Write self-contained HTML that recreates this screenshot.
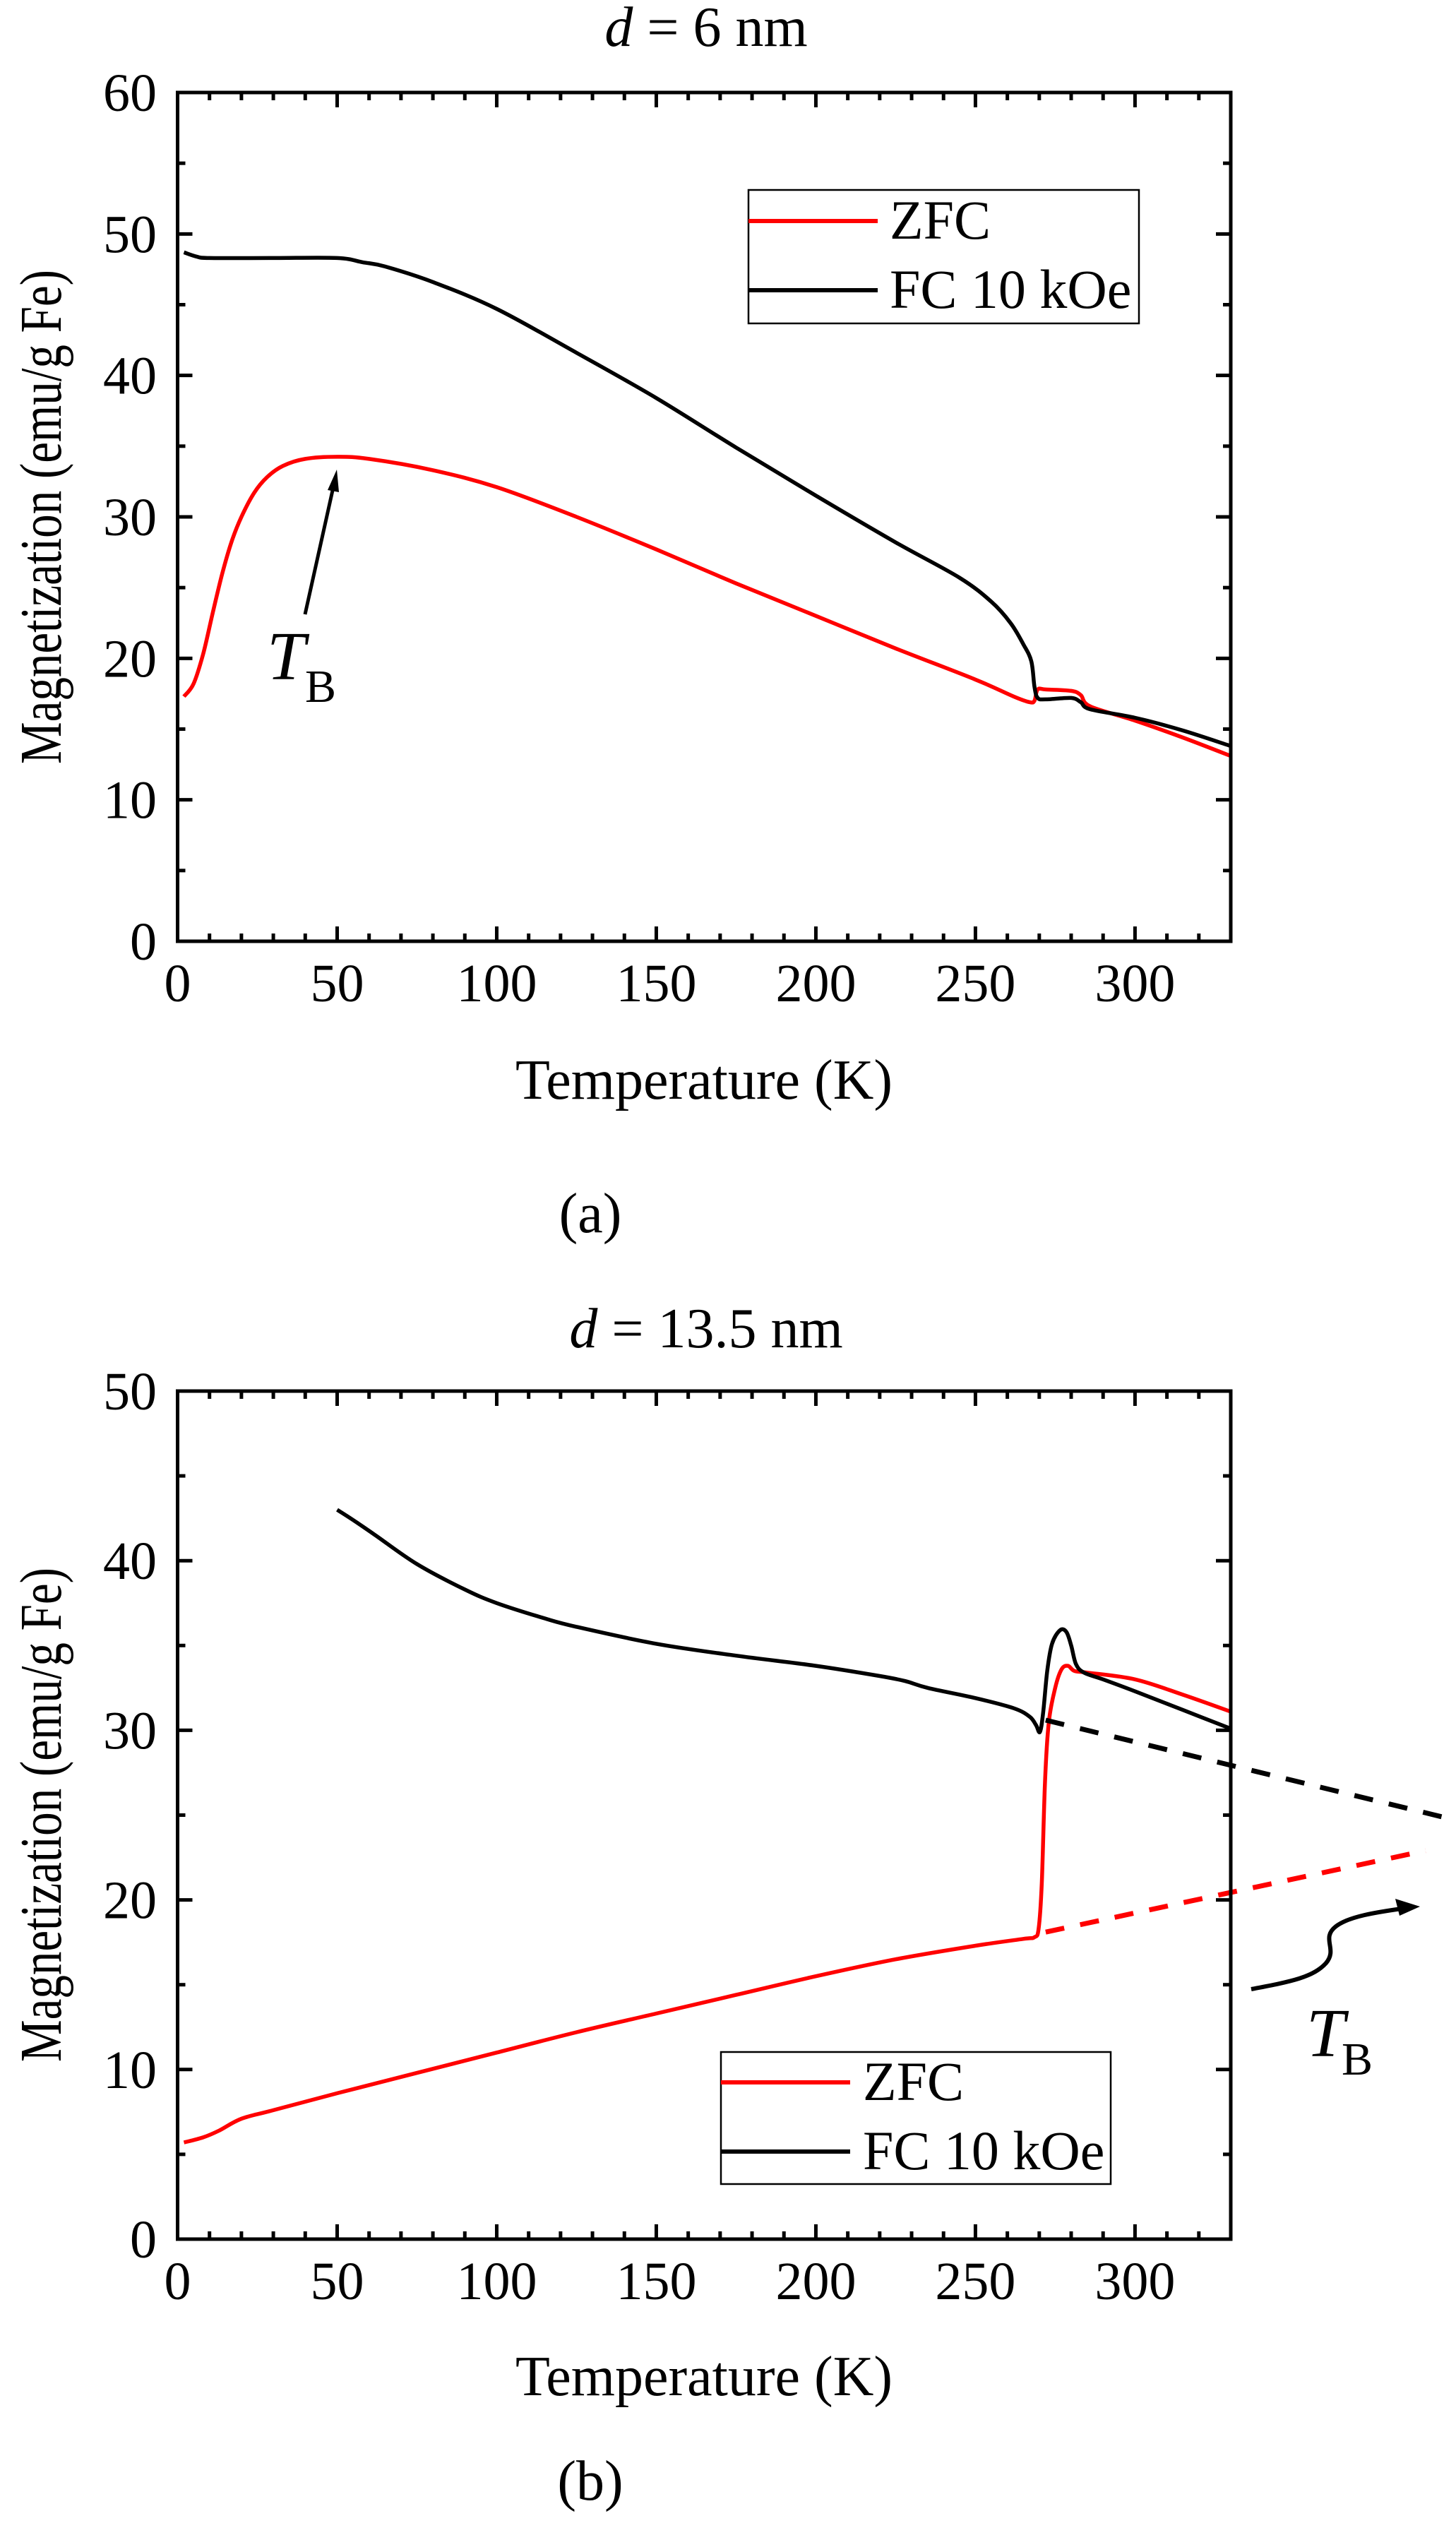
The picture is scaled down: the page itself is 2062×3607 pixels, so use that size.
<!DOCTYPE html>
<html><head><meta charset="utf-8">
<style>html,body{margin:0;padding:0;background:#fff}svg{display:block}</style>
</head><body>
<svg id="s" width="2062" height="3607" viewBox="0 0 2062 3607" xmlns="http://www.w3.org/2000/svg" font-family="'Liberation Serif', serif">
<rect width="2062" height="3607" fill="#fff"/>
<g id="g"></g>
<text x="1000" y="65" font-size="80" text-anchor="middle"><tspan font-style="italic">d</tspan> = 6 nm</text>
<text x="1000" y="1908" font-size="80" text-anchor="middle"><tspan font-style="italic">d</tspan> = 13.5 nm</text>
<text x="836" y="1745" font-size="80" text-anchor="middle">(a)</text>
<text x="836" y="3540" font-size="80" text-anchor="middle">(b)</text>
<text x="997" y="1556" font-size="80" text-anchor="middle">Temperature (K)</text>
<text x="997" y="3392" font-size="80" text-anchor="middle">Temperature (K)</text>
<text transform="translate(86,732) rotate(-90)" font-size="84" text-anchor="middle" textLength="700" lengthAdjust="spacingAndGlyphs">Magnetization (emu/g Fe)</text>
<text transform="translate(86,2570) rotate(-90)" font-size="84" text-anchor="middle" textLength="700" lengthAdjust="spacingAndGlyphs">Magnetization (emu/g Fe)</text>
<text x="378" y="962" font-size="98" font-style="italic">T</text>
<text x="432" y="994" font-size="66">B</text>
<text x="1850" y="2912" font-size="98" font-style="italic">T</text>
<text x="1900" y="2938" font-size="66">B</text>
<rect x="1060" y="269" width="553" height="189" fill="none" stroke="#000" stroke-width="2.5"/>
<line x1="1060" y1="313" x2="1243" y2="313" stroke="#f00" stroke-width="6"/>
<line x1="1060" y1="411" x2="1243" y2="411" stroke="#000" stroke-width="6"/>
<text x="1260" y="338" font-size="78">ZFC</text>
<text x="1260" y="436" font-size="78">FC 10 kOe</text>
<rect x="1021" y="2906" width="552" height="187" fill="none" stroke="#000" stroke-width="2.5"/>
<line x1="1021" y1="2949" x2="1204" y2="2949" stroke="#f00" stroke-width="6"/>
<line x1="1021" y1="3047" x2="1204" y2="3047" stroke="#000" stroke-width="6"/>
<text x="1222" y="2974" font-size="78">ZFC</text>
<text x="1222" y="3072" font-size="78">FC 10 kOe</text>
<path d="M1772,2817 C1830,2806 1860,2800 1878,2780 C1895,2760 1870,2745 1892,2728 C1910,2714 1950,2708 1985,2703" fill="none" stroke="#000" stroke-width="6"/>
<polygon points="2011,2700 1976,2689 1982,2713" fill="#000"/>
<line x1="432" y1="870" x2="472" y2="690" stroke="#000" stroke-width="5"/>
<polygon points="477,665 464,694 480,697" fill="#000"/>
</svg>
<script>
var NS="http://www.w3.org/2000/svg",g=document.getElementById('g');
function el(t,a){var e=document.createElementNS(NS,t);for(var k in a)e.setAttribute(k,a[k]);g.appendChild(e);return e;}
var L=251.5,R=1743;
function X(T){return L+T*(R-L)/330;}
function axes(top,bot,ymax){
 var sy=(bot-top)/ymax;
 for(var t=0;t<=330;t+=10){var x=X(t),len=(t%50==0)?21:11;
  el('line',{x1:x,y1:bot,x2:x,y2:bot-len,stroke:'#000','stroke-width':5});
  el('line',{x1:x,y1:top,x2:x,y2:top+len,stroke:'#000','stroke-width':5});
  if(t%50==0){var tx=el('text',{x:x,y:bot+85,'font-size':76,'text-anchor':'middle'});tx.textContent=t;}}
 for(var m=0;m<=ymax;m+=5){var y=bot-m*sy,len=(m%10==0)?21:11;
  el('line',{x1:L,y1:y,x2:L+len,y2:y,stroke:'#000','stroke-width':5});
  el('line',{x1:R,y1:y,x2:R-len,y2:y,stroke:'#000','stroke-width':5});
  if(m%10==0){var tx=el('text',{x:222,y:y+26,'font-size':76,'text-anchor':'end'});tx.textContent=m;}}
 el('rect',{x:L,y:top,width:R-L,height:bot-top,fill:'none',stroke:'#000','stroke-width':5});
}
function curve(d,top,bot,ymax,col,dash){
 var sy=(bot-top)/ymax,p=[];
 for(var i=0;i<d.length;i+=2)p.push([X(d[i]),bot-d[i+1]*sy]);
 var s='M'+p[0][0].toFixed(1)+','+p[0][1].toFixed(1);
 for(var i=0;i<p.length-1;i++){var p0=p[i>0?i-1:i],p1=p[i],p2=p[i+1],p3=p[i+2<p.length?i+2:i+1];
  var c1=[p1[0]+(p2[0]-p0[0])/6,p1[1]+(p2[1]-p0[1])/6],c2=[p2[0]-(p3[0]-p1[0])/6,p2[1]-(p3[1]-p1[1])/6];
  s+=' C'+c1[0].toFixed(1)+','+c1[1].toFixed(1)+' '+c2[0].toFixed(1)+','+c2[1].toFixed(1)+' '+p2[0].toFixed(1)+','+p2[1].toFixed(1);}
 var a={d:s,fill:'none',stroke:col,'stroke-width':dash?7:5.5,'stroke-linejoin':'round'};
 if(dash)a['stroke-dasharray']='27,23';
 el('path',a);
}
var aT=131,aB=1333;
curve([2,17.3,5,18.2,8,20.3,11,23.2,14,26.0,17,28.3,20,30.0,24,31.7,28,32.8,33,33.6,40,34.1,50,34.25,60,34.1,80,33.3,100,32.1,125,30,150,27.7,175,25.3,200,23,225,20.7,250,18.5,262,17.3,267,16.9,268.5,17.0,269.5,17.8,272,17.8,280,17.7,283,17.4,286,16.6,300,15.6,315,14.4,330,13.1],aT,aB,60,'#f00');
curve([2,48.7,6,48.4,10,48.3,30,48.3,50,48.3,58,48.0,65,47.7,80,46.6,100,44.7,125,41.6,150,38.4,175,34.9,200,31.5,225,28.2,245,25.7,255,24.0,261,22.5,265,21.0,267.5,19.8,268.5,18,269.5,17.2,272,17.1,280,17.2,283,16.9,286,16.4,300,15.8,315,14.9,330,13.8],aT,aB,60,'#000');
axes(aT,aB,60);
var bT=1970,bB=3171;
curve([2,5.7,8,6.0,13,6.4,20,7.1,30,7.6,50,8.6,75,9.8,100,11.0,125,12.2,150,13.3,175,14.4,200,15.5,225,16.5,250,17.3,265,17.7,268.5,17.8,269.8,18.3,270.8,21,271.8,27,273,30.5,275,32.5,277,33.6,279,33.8,281,33.5,285,33.4,300,33.0,315,32.1,330,31.1],bT,bB,50,'#f00');
curve([50,43,55,42.4,62,41.5,75,39.8,90,38.3,100,37.5,115,36.6,125,36.1,150,35.1,175,34.4,200,33.8,220,33.2,228,32.9,235,32.5,250,31.9,262,31.3,267,30.8,269,30.3,270.2,29.9,271.2,31,272.5,33.5,274,35.1,276.5,35.9,278.5,35.8,280,35.0,281.5,33.9,284,33.4,290,33.0,300,32.3,315,31.2,330,30.1],bT,bB,50,'#000');
curve([272,30.6,400.5,24.7],bT,bB,50,'#000',true);
curve([272,18.1,391,22.9],bT,bB,50,'#f00',true);
axes(bT,bB,50);
</script>
</body></html>
